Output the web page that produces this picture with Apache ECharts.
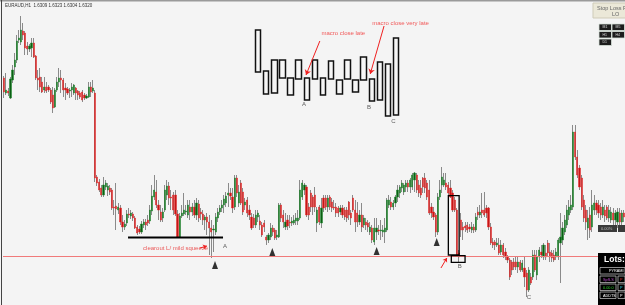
<!DOCTYPE html>
<html><head><meta charset="utf-8">
<script src="https://cdn.jsdelivr.net/npm/echarts@6/dist/echarts.min.js"></script>
<style>html,body{margin:0;padding:0;background:#f4f4f4;overflow:hidden}#c{width:625px;height:305px}</style>
</head><body><div id="c"></div>
<script>
// EURAUD H1 candles, prices in pips above 1.6000
const opens = [222,207,209,202,220,233,240,260,258,269,267,254,251,252,257,244,222,223,218,210,213,213,210,205,193,210,218,222,220,212,211,209,210,207,212,209,207,208,205,202,203,213,209,207,
123,118,112,105,113,110,112,110,93,94,90,92,78,73,77,86,84,86,82,73,71,68,75,78,80,79,89,103,108,95,88,82,90,105,114,103,105,105,86,63,84,86,88,85,93,88,93,85,96,88,86,80,83,78,72,70,68,82,
88,92,
95,97,105,107,103,93,122,97,117,108,95,100,90,83,82,75,83,79,75,77,63,60,63,72,70,63,63,95,85,73,80,78,77,77,79,79,82,103,110,113,93,107,103,105,77,93,77,102,102,93,103,98,93,93,92,88,92,90,90,98,87,
102,90,87,78,85,75,78,77,68,72,58,68,70,69,68,68,70,95,98,93,97,103,107,112,108,113,117,113,113,120,125,115,112,122,122,117,110,93,88,85,68,103,115,115,117,115,112,107,100,90,47,80,73,74,75,73,70,73,70,88,85,90,90,92,92,73,58,58,55,55,48,55,48,43,40,38,38,38,33,38,30,32,27,10,23,23,45,25,43,48,43,47,57,48,47,45,43,43,57,60,68,75,85,90,93,168,143,132,122,100,90,72,85,73,90,97,95,93,85,90,93,82,80,87,80,78,87,78,87];
const closes = [208,210,207,221,230,240,259,262,270,265,252,251,254,257,243,222,220,213,208,213,209,210,198,192,210,218,222,220,210,210,207,210,213,215,207,205,203,200,202,204,213,208,212,122,
117,110,105,115,117,114,108,92,92,91,93,78,73,76,86,85,87,82,72,67,68,76,78,75,77,90,104,110,95,90,80,88,110,114,102,102,90,86,63,84,87,90,89,95,88,93,85,97,82,86,80,83,78,72,68,71,83,88,
92,95,
101,104,107,104,92,122,107,108,97,88,98,87,85,72,75,85,87,75,65,73,60,65,72,68,62,65,95,82,78,78,74,77,79,80,82,82,110,117,115,85,85,93,93,93,90,78,92,92,93,102,93,92,92,87,87,92,85,83,82,85,82,
90,78,78,85,73,82,75,73,73,60,72,72,69,70,70,72,100,100,93,97,103,110,113,117,115,117,113,120,125,127,110,107,105,113,112,103,87,87,83,68,103,110,123,120,113,107,103,90,90,45,43,70,70,72,70,71,73,70,83,85,88,87,85,87,73,57,55,55,57,47,55,45,43,40,23,30,33,33,38,30,37,23,10,30,17,45,30,43,50,45,55,43,47,43,42,40,48,60,63,72,80,90,93,95,168,143,125,113,93,82,78,82,70,95,97,90,87,85,93,84,82,90,88,80,87,88,78,87,83];
const lows = [202,205,204,201,217,225,237,257,255,260,245,245,248,243,242,220,210,208,207,207,207,208,196,187,192,208,213,207,203,200,205,202,203,205,200,200,201,198,200,201,202,203,207,118,
114,108,103,103,110,104,105,90,85,70,86,75,68,70,74,82,81,79,71,65,66,66,72,70,74,76,85,100,92,80,78,78,88,100,95,90,85,84,62,62,82,84,85,82,80,84,82,80,78,80,75,70,65,45,42,48,65,78,
85,88,
87,93,93,100,87,90,103,93,95,85,90,83,80,70,72,72,78,70,63,68,55,57,60,64,60,60,62,78,72,70,70,72,74,75,75,75,80,100,105,83,80,88,85,88,68,75,72,88,90,88,90,88,90,83,83,85,82,80,78,80,75,
88,68,73,75,68,72,70,68,65,57,55,60,65,60,63,57,68,92,90,90,93,98,102,108,105,108,108,107,110,108,107,103,102,107,107,100,85,82,80,63,65,100,107,113,110,105,102,88,88,43,38,63,60,68,67,68,67,67,68,80,82,82,83,82,70,55,52,50,53,45,45,42,40,37,20,25,30,30,27,28,28,13,3,8,15,20,28,20,38,42,40,40,43,38,38,38,40,40,17,55,65,72,80,87,90,140,122,110,90,78,70,60,62,68,85,85,82,80,82,78,80,78,77,75,75,72,72,75,78];
const highs = [224,227,212,223,235,247,265,270,284,277,269,258,256,262,262,245,230,232,223,223,218,215,212,213,212,223,232,230,222,217,213,212,217,216,213,210,209,210,207,206,218,218,220,210,
125,121,115,123,120,117,115,112,100,117,97,95,85,80,90,92,90,88,84,75,74,79,81,81,85,95,115,125,120,100,95,92,115,120,118,110,108,110,90,87,95,107,95,100,100,97,100,102,100,92,90,85,87,85,80,75,87,92,
95,100,
105,108,117,112,112,125,125,115,120,112,102,103,95,87,86,90,90,85,78,80,65,67,77,75,72,70,97,97,90,87,85,85,83,85,87,90,120,120,117,115,97,110,105,113,93,95,102,105,105,105,105,102,100,97,94,95,95,93,93,99,90,
105,100,98,90,97,85,82,80,78,75,82,82,75,80,75,82,102,105,103,100,105,115,115,120,117,120,120,122,127,128,127,120,120,123,127,120,120,97,93,87,107,120,133,127,127,118,120,110,103,92,50,87,78,78,78,76,78,76,87,93,95,107,108,95,93,77,62,60,62,62,60,57,52,45,42,40,42,43,43,40,40,43,30,33,27,50,50,50,53,55,57,55,60,57,50,50,52,62,87,78,85,95,100,105,175,175,150,135,125,105,95,90,93,110,105,100,100,97,100,95,95,95,93,92,90,92,92,90,90];

const supportLevel = 44;                       // red horizontal level
const squeezeLine = [[58.6, 62.5], [103.5, 62.5]];
const arrowMarks = [[99.7, 35], [126.8, 48], [176.1, 49], [204.5, 58]];
const boxes = [[210.0, 104.3, 215.1, 45], [211.4, 44.3, 217.9, 37.7]];
const mainLabels = [
  {text: 'clearout L/ mild squeeze', x: 65.7, p: 52, color: '#e83030'},
  {text: 'A', x: 103.5, p: 54, color: '#333'},
  {text: 'B', x: 214.5, p: 34, color: '#333'},
  {text: 'C', x: 247.1, p: 3, color: '#333'}
];
const mainArrows = [[[92.6, 52], [95.9, 54]], [[206.5, 32], [209.3, 42]]];

// inset schematic (macro bars)
const insetOpen  = [53,54,32,65,47,46,47,46,47,46,45,46,45,45,46,25,61,10];
const insetClose = [95,31,65,47,30,65,25,65,30,64,31,65,33,68,24,63,9,87];
const insetLabels = [
  {text: 'macro close late', x: 7.8, p: 92, color: '#f03030'},
  {text: 'macro close very late', x: 14.05, p: 101.5, color: '#f03030'},
  {text: 'A', x: 5.4, p: 21, color: '#333'},
  {text: 'B', x: 13.4, p: 18, color: '#333'},
  {text: 'C', x: 16.4, p: 4, color: '#333'}
];
const insetArrows = [[[7.6, 84], [5.9, 50]], [[15.5, 99], [13.8, 51]]];

const N = opens.length;
const cats = opens.map((_, i) => i);
const wickData = opens.map((o, i) => [o, closes[i], lows[i], highs[i]]);
const bodyData = opens.map((o, i) => [o, closes[i], Math.min(o, closes[i]), Math.max(o, closes[i])]);
const insetData = insetOpen.map((o, i) => [o, insetClose[i], Math.min(o, insetClose[i]), Math.max(o, insetClose[i])]);

function labelSeries(list, xi, yi) {
  return {
    type: 'scatter', xAxisIndex: xi, yAxisIndex: yi, symbolSize: 0, silent: true, z: 20,
    data: list.map(l => ({
      value: [l.x, l.p], name: l.text,
      label: {show: true, formatter: '{b}', position: [0, 0], align: 'left', verticalAlign: 'middle',
        color: l.color, fontSize: 6, fontFamily: 'Liberation Sans'}
    }))
  };
}
function arrowSeries(list, xi, yi, size) {
  return {
    type: 'lines', coordinateSystem: 'cartesian2d', xAxisIndex: xi, yAxisIndex: yi, silent: true, z: 20,
    symbol: ['none', 'arrow'], symbolSize: size,
    lineStyle: {color: '#f02020', width: 1, opacity: 1},
    data: list.map(a => ({coords: a}))
  };
}

const chart = echarts.init(document.getElementById('c'), null, {renderer: 'canvas'});
const F = 'Liberation Sans';
chart.setOption({
  animation: false,
  backgroundColor: '#f4f4f4',
  grid: [
    {left: 3, right: 0, top: 0, bottom: 0},
    {left: 254, top: 20, width: 146.3, height: 105}
  ],
  xAxis: [
    {type: 'category', gridIndex: 0, data: cats, show: false},
    {type: 'value', gridIndex: 0, min: -0.5, max: N - 0.5, show: false},
    {type: 'category', gridIndex: 1, data: insetOpen.map((_, i) => i), show: false},
    {type: 'value', gridIndex: 1, min: -0.5, max: insetOpen.length - 0.5, show: false}
  ],
  yAxis: [
    {type: 'value', gridIndex: 0, min: -5, max: 300, show: false},
    {type: 'value', gridIndex: 1, min: 0, max: 105, show: false}
  ],
  series: [
    {type: 'candlestick', xAxisIndex: 0, yAxisIndex: 0, data: wickData, barWidth: 0.8, z: 2,
      itemStyle: {color: '#8a8a8a', color0: '#8a8a8a', borderColor: '#8a8a8a', borderColor0: '#8a8a8a', borderWidth: 1}},
    {type: 'candlestick', xAxisIndex: 0, yAxisIndex: 0, data: bodyData, barWidth: 1.7, z: 3,
      itemStyle: {color: '#0b5e14', color0: '#c41616', borderColor: '#1f8a2c', borderColor0: '#e82a2a', borderWidth: 0.5},
      markLine: {silent: true, symbol: 'none', label: {show: false},
        lineStyle: {color: '#f07a7a', width: 1, type: 'solid'}, data: [{yAxis: supportLevel}]}},
    {type: 'line', xAxisIndex: 1, yAxisIndex: 0, data: squeezeLine, symbol: 'none', silent: true, z: 10,
      lineStyle: {color: '#000', width: 2}},
    {type: 'scatter', xAxisIndex: 1, yAxisIndex: 0, data: arrowMarks, symbol: 'triangle', symbolSize: [6, 8], silent: true, z: 10,
      itemStyle: {color: '#000'}},
    {type: 'custom', xAxisIndex: 1, yAxisIndex: 0, data: boxes, silent: true, z: 10,
      encode: {x: [0, 2], y: [1, 3]},
      renderItem: (p, api) => {
        const a = api.coord([api.value(0), api.value(1)]);
        const b = api.coord([api.value(2), api.value(3)]);
        return {type: 'rect', shape: {x: a[0], y: a[1], width: b[0] - a[0], height: b[1] - a[1]},
          style: {fill: 'none', stroke: '#000', lineWidth: 1.3}};
      }},
    labelSeries(mainLabels, 1, 0),
    arrowSeries(mainArrows, 1, 0, 4),
    {type: 'candlestick', xAxisIndex: 2, yAxisIndex: 1, data: insetData, barWidth: 6, z: 5,
      itemStyle: {color: '#f6f6f6', color0: '#f6f6f6', borderColor: '#111', borderColor0: '#111', borderWidth: 1.5}},
    labelSeries(insetLabels, 3, 1),
    arrowSeries(insetArrows, 3, 1, 5)
  ],
  graphic: [
    {type: 'rect', z: 100, shape: {x: 0, y: 0, width: 625, height: 1.5}, style: {fill: '#9a9a9a'}},
    {type: 'rect', z: 100, shape: {x: 1, y: 0, width: 1, height: 305}, style: {fill: '#444'}},
    {type: 'text', z: 100, left: 5, top: 3, style: {text: 'EURAUD,H1  1.6309 1.6323 1.6304 1.6320', fontSize: 4.5, fill: '#333', fontFamily: F}},
    // stop loss panel
    {type: 'rect', z: 100, shape: {x: 593, y: 3, width: 33, height: 15}, style: {fill: '#ebe8d8', stroke: '#cfcbb8', lineWidth: 1}},
    {type: 'text', z: 101, left: 597, top: 5, style: {text: 'Stop Loss Pr', fontSize: 5.5, fill: '#666', fontFamily: F}},
    {type: 'text', z: 101, left: 612, top: 11.5, style: {text: 'LO', fontSize: 5.5, fill: '#666', fontFamily: F}},
    // timeframe buttons
    ...[[599,24,'M1'],[612,24,'M5'],[599,31.5,'H1'],[612,31.5,'H4'],[599,39,'D1']].flatMap(b => [
      {type: 'rect', z: 100, shape: {x: b[0], y: b[1], width: 12.5, height: 6.5}, style: {fill: '#1c1c1c', stroke: '#d8e2da', lineWidth: 0.8}},
      {type: 'text', z: 101, left: b[0] + 3.5, top: b[1] + 1.5, style: {text: b[2], fontSize: 3.5, fill: '#ddd', fontFamily: F}}
    ]),
    // small dark strip
    {type: 'rect', z: 100, shape: {x: 598, y: 225, width: 19, height: 7}, style: {fill: '#3a3a3a'}},
    {type: 'rect', z: 100, shape: {x: 618, y: 225, width: 7, height: 7}, style: {fill: '#3a3a3a'}},
    {type: 'text', z: 101, left: 601, top: 226.5, style: {text: '0.00%', fontSize: 4, fill: '#bbb', fontFamily: F}},
    // lots panel
    {type: 'rect', z: 100, shape: {x: 598, y: 253, width: 27, height: 52}, style: {fill: '#000'}},
    {type: 'text', z: 101, left: 604, top: 255.5, style: {text: 'Lots:', fontSize: 8.5, fontWeight: 'bold', fill: '#fff', fontFamily: F}},
    {type: 'rect', z: 101, shape: {x: 600, y: 267.5, width: 25, height: 6.5}, style: {fill: '#000', stroke: '#ccc', lineWidth: 0.7}},
    {type: 'text', z: 102, left: 609, top: 269, style: {text: 'PYRAMI', fontSize: 3.8, fill: '#fff', fontFamily: F}},
    ...[[276, 'SpS.S', '#c050d0', '#e03030'], [284, '0.00.0', '#30d030', '#30d0e0'], [292, 'ADDTS', '#fff', '#fff']].flatMap(r => [
      {type: 'rect', z: 101, shape: {x: 600, y: r[0], width: 16, height: 6.5}, style: {fill: '#000', stroke: '#ccc', lineWidth: 0.7}},
      {type: 'rect', z: 101, shape: {x: 618, y: r[0], width: 7, height: 6.5}, style: {fill: '#000', stroke: '#ccc', lineWidth: 0.7}},
      {type: 'text', z: 102, left: 603, top: r[0] + 1.5, style: {text: r[1], fontSize: 3.8, fill: r[2], fontFamily: F}},
      {type: 'text', z: 102, left: 620, top: r[0] + 1.5, style: {text: 'P', fontSize: 3.8, fill: r[3], fontFamily: F}}
    ])
  ]
});
</script></body></html>
